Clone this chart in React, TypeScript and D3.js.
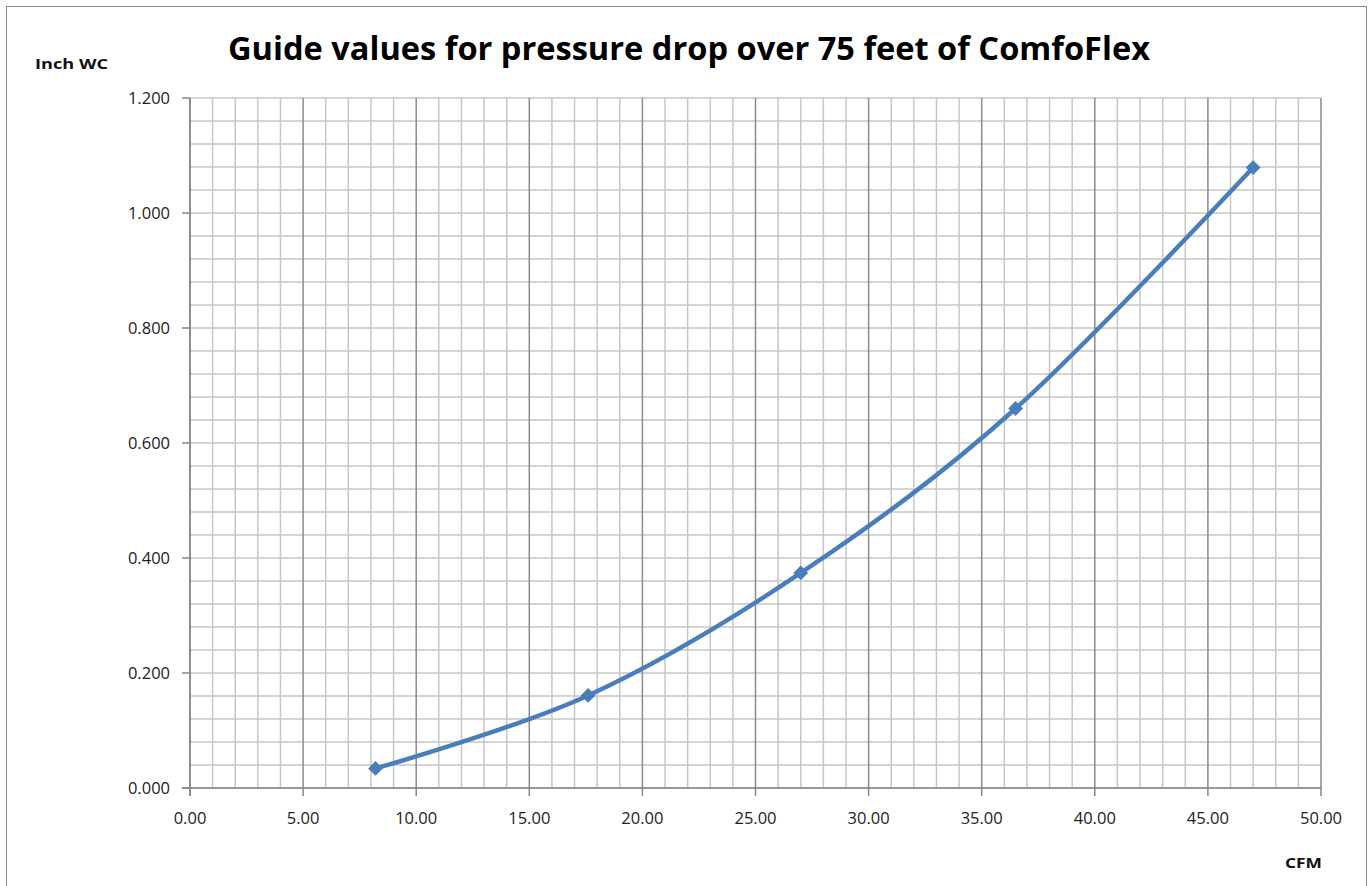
import React from 'react';
import * as d3 from 'd3';

// values
const cfm = [8.2, 17.6, 27.0, 36.5, 47.0];
const inchWC = [0.034, 0.161, 0.374, 0.660, 1.079];
const xTicks = [0, 5, 10, 15, 20, 25, 30, 35, 40, 45, 50];
const yTicks = [0, 0.2, 0.4, 0.6, 0.8, 1.0, 1.2];

const W = 1372;
const H = 886;
const margin = { left: 190, right: 51, top: 98, bottom: 98 };

const App = () => {
  const x = d3.scaleLinear().domain([0, 50]).range([margin.left, W - margin.right]);
  const y = d3.scaleLinear().domain([0, 1.2]).range([H - margin.bottom, margin.top]);

  const xMinor = d3.range(0, 50.001, 1);
  const yMinor = d3.range(0, 1.2001, 0.04);

  const pts: [number, number][] = cfm.map((c, i) => [c, inchWC[i]]);
  const line = d3
    .line<[number, number]>()
    .x(d => x(d[0]))
    .y(d => y(d[1]))
    .curve(d3.curveCardinal.tension(0));

  // excel-style diamond: a square turned 45deg
  const marker = d3.symbol().type(d3.symbolSquare).size(110)();

  const x0 = x(0);
  const x1 = x(50);
  const y0 = y(0);
  const y1 = y(1.2);
  const font = 'Open Sans, Liberation Sans, sans-serif';

  return (
    <svg width={W} height={H} style={{ position: 'absolute', left: 0, top: 0 }}>
      <rect x={0} y={0} width={W} height={H} fill="#fff" />
      <rect x={6.5} y={6.5} width={W - 5.5 - 6.5} height={H} fill="none" stroke="#8c8c8c" strokeWidth={1} />

      {/* minor grid */}
      {yMinor.map((v, i) => (
        <line key={'yg' + i} x1={x0} x2={x1} y1={y(v)} y2={y(v)} stroke="#c6c6c6" strokeWidth={1.5} />
      ))}
      {xMinor.map((v, i) =>
        Math.round(v) % 5 === 0 ? null : (
          <line key={'xg' + i} x1={x(v)} x2={x(v)} y1={y0} y2={y1} stroke="#c6c6c6" strokeWidth={1.5} />
        )
      )}
      {xTicks.map((v, i) => (
        <line key={'xm' + i} x1={x(v)} x2={x(v)} y1={y0} y2={y1} stroke="#8a8a8a" strokeWidth={1.5} />
      ))}

      {/* axes */}
      <line x1={x0} x2={x0} y1={y0 + 8} y2={y1} stroke="#868686" strokeWidth={1.5} />
      <line x1={x0 - 8} x2={x1} y1={y0} y2={y0} stroke="#868686" strokeWidth={1.5} />
      {yTicks.map((v, i) => (
        <g key={'yt' + i}>
          <line x1={x0 - 8} x2={x0} y1={y(v)} y2={y(v)} stroke="#868686" strokeWidth={1.5} />
          <text x={x0 - 20} y={y(v) + 6} textAnchor="end" fontSize={16.5} fontFamily={font} fill="#222">
            {d3.format('.3f')(v)}
          </text>
        </g>
      ))}
      {xTicks.map((v, i) => (
        <g key={'xt' + i}>
          <line x1={x(v)} x2={x(v)} y1={y0} y2={y0 + 8} stroke="#868686" strokeWidth={1.5} />
          <text x={x(v)} y={y0 + 36} textAnchor="middle" fontSize={16.5} fontFamily={font} fill="#222">
            {d3.format('.2f')(v)}
          </text>
        </g>
      ))}

      {/* series */}
      <path d={line(pts) || ''} fill="none" stroke="#4a7ebb" strokeWidth={4.5} strokeLinecap="round" />
      {pts.map((d, i) => (
        <path key={'pt' + i} d={marker || ''} transform={`translate(${x(d[0])},${y(d[1])}) rotate(45)`} fill="#4a7ebb" />
      ))}

      {/* labels */}
      <text x={689} y={60} textAnchor="middle" fontSize={32} fontWeight="bold" fontFamily={font} fill="#000"
        textLength={922} lengthAdjust="spacingAndGlyphs">
        Guide values for pressure drop over 75 feet of ComfoFlex
      </text>
      <text x={35} y={69} fontSize={15} fontWeight="bold" fontFamily={font} fill="#111"
        textLength={73} lengthAdjust="spacingAndGlyphs">Inch WC</text>
      <text x={1285} y={868} fontSize={15} fontWeight="bold" fontFamily={font} fill="#111"
        textLength={37} lengthAdjust="spacingAndGlyphs">CFM</text>
    </svg>
  );
};

export default App;
